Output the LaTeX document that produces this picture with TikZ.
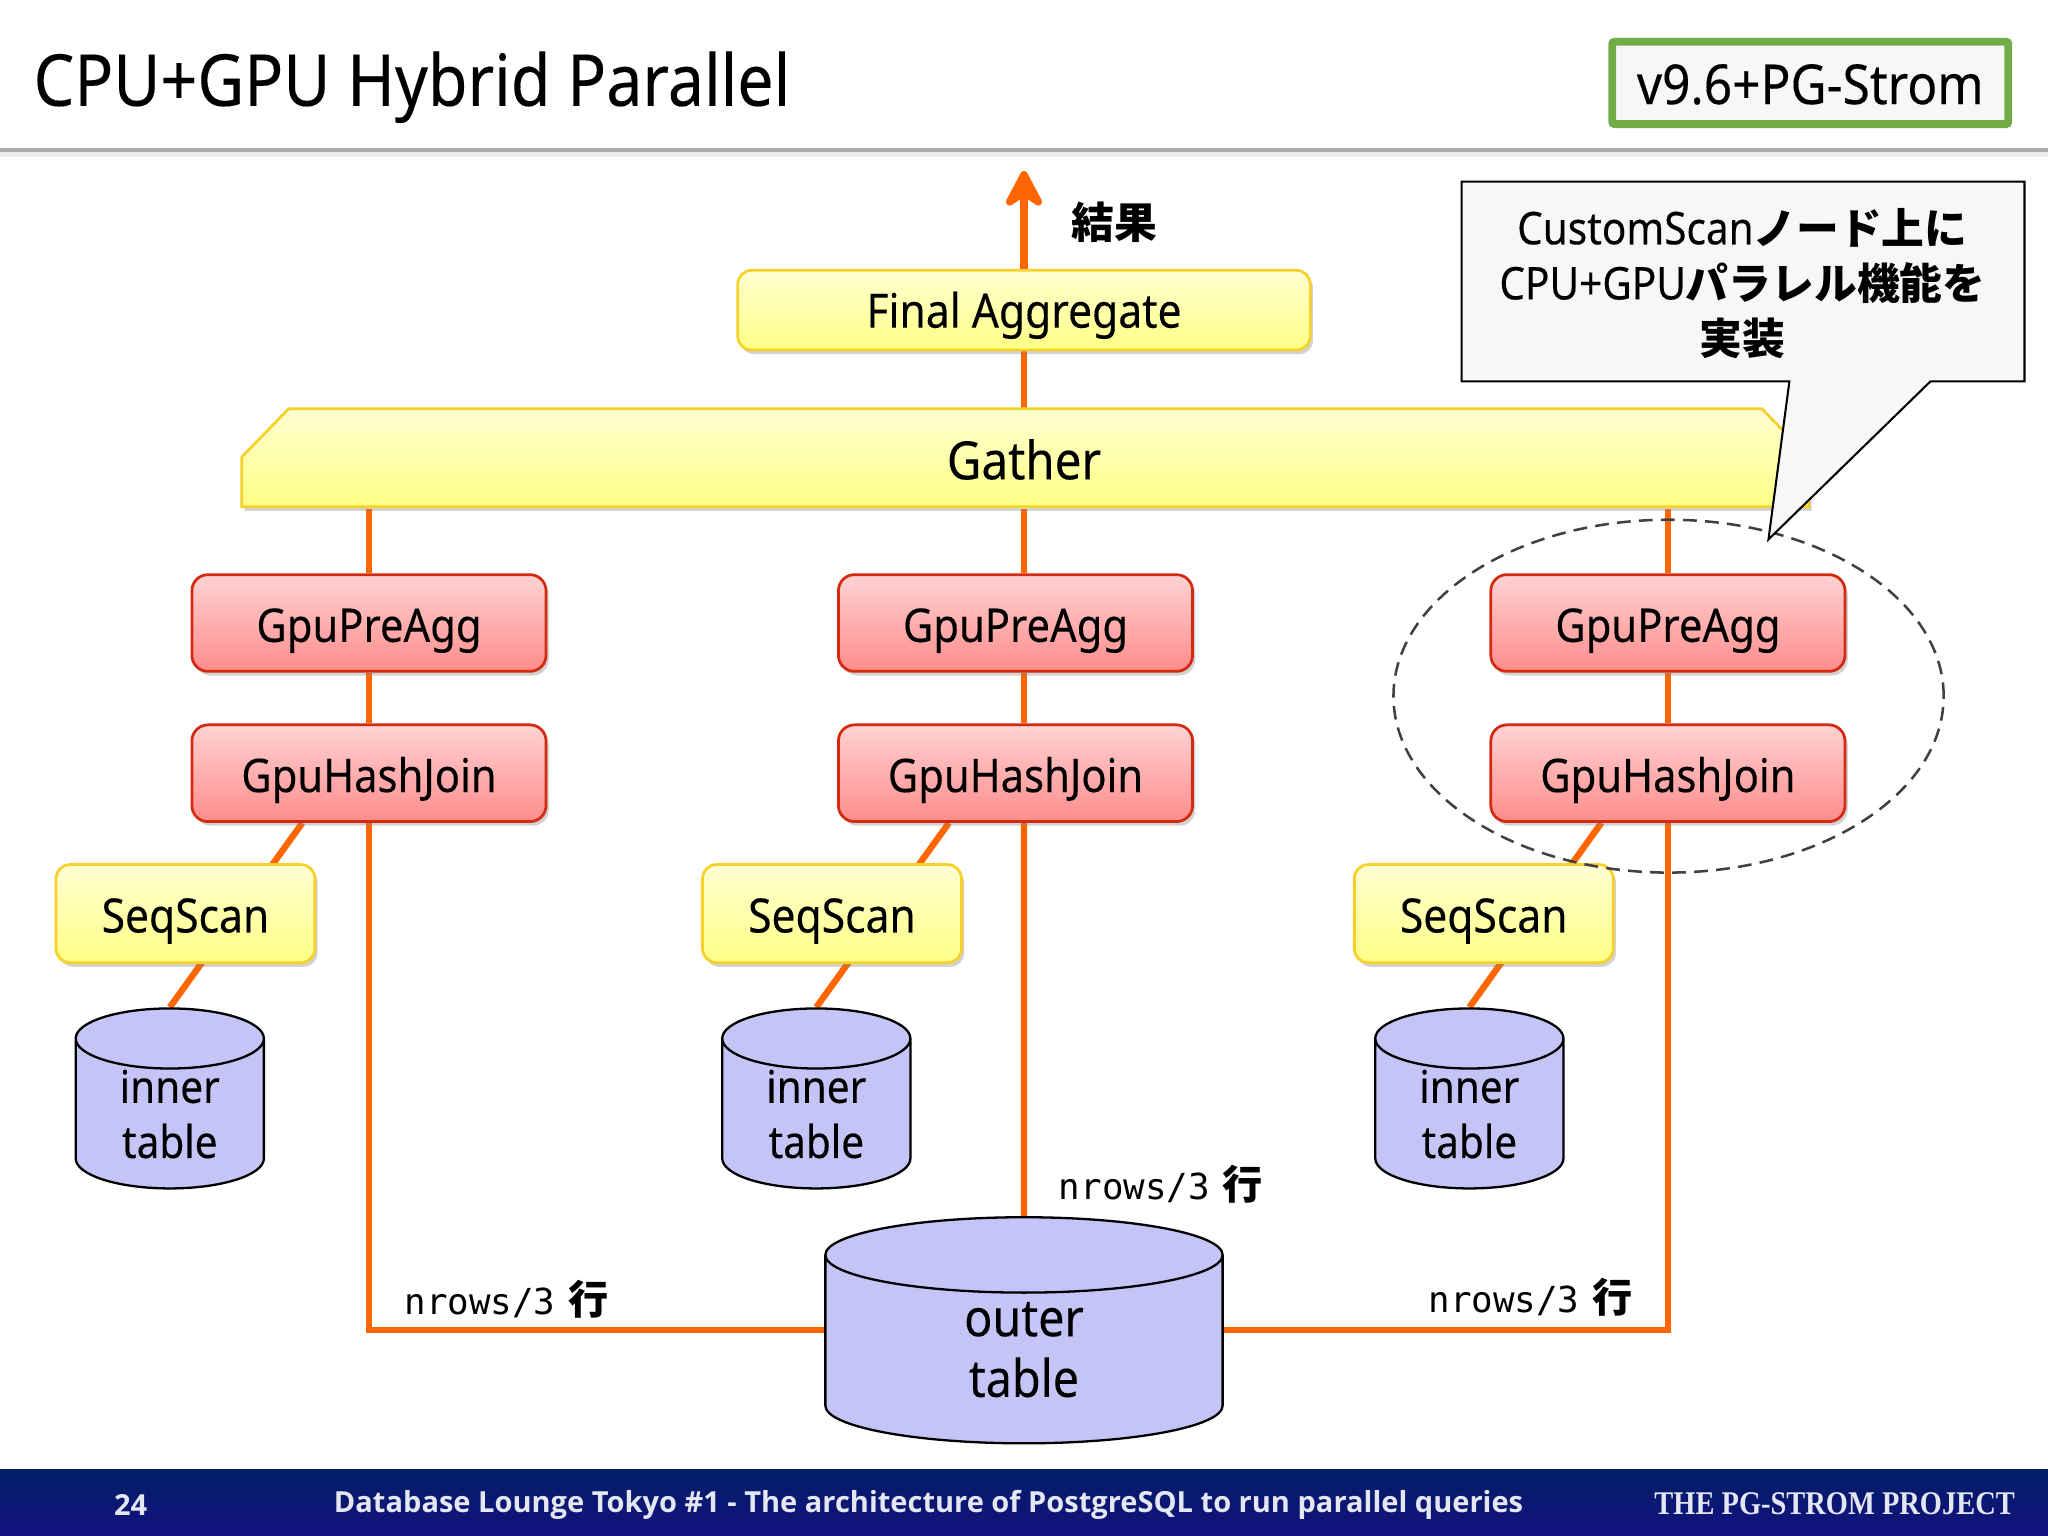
\documentclass[tikz,border=0pt]{standalone}
\usepackage{fontspec}
\setmainfont[FakeStretch=0.9,FakeBold=0.2]{Noto Sans}
\setmonofont{DejaVu Sans Mono}
\newfontfamily\jpfont[Scale=0.95]{Noto Sans CJK JP}
\newfontfamily\footfont{Open Sans}
\newfontfamily\projfont[FakeStretch=0.86]{Liberation Serif}
\usetikzlibrary{arrows.meta,backgrounds,shadows,shapes.geometric}
\definecolor{pipeorange}{HTML}{FF6600}
\definecolor{yellowtop}{HTML}{FFFFD2}
\definecolor{yellowbot}{HTML}{FFFF85}
\definecolor{yellowedge}{HTML}{F7D02A}
\definecolor{redtop}{HTML}{FFD2D2}
\definecolor{redbot}{HTML}{FF8C8C}
\definecolor{rededge}{HTML}{D42A10}
\definecolor{tablefill}{HTML}{C4C4F6}
\definecolor{notefill}{HTML}{F7F7F7}
\definecolor{badgegreen}{HTML}{70AD47}
\definecolor{footertop}{HTML}{001F66}
\definecolor{footerbot}{HTML}{15107F}
\definecolor{footertext}{HTML}{E4E6F2}
\tikzset{
    softshadow/.style={drop shadow={shadow xshift=0.6pt,shadow yshift=-0.9pt,opacity=0.35}},
    yellowbox/.style={rectangle,rounded corners=3pt,draw=yellowedge,line width=0.6pt,top color=yellowtop,bottom color=yellowbot,softshadow,inner sep=0pt,text height=8.2pt,text depth=0pt,font=\fontsize{10.3}{12}\selectfont},
    redbox/.style={rectangle,rounded corners=3.5pt,draw=rededge,line width=0.6pt,top color=redtop,bottom color=redbot,softshadow,minimum width=2.71cm,minimum height=0.74cm,inner sep=0pt,text height=8.2pt,text depth=0pt,font=\fontsize{10.1}{12}\selectfont},
    seqbox/.style={yellowbox,minimum width=1.98cm,minimum height=0.75cm},
    tablecyl/.style={cylinder,shape border rotate=90,anchor=shape center,draw=black,line width=0.5pt,fill=tablefill,align=center,inner sep=0pt,execute at begin node={\rule{0pt}{10pt}}},
    innercyl/.style={tablecyl,minimum height=1.36cm,minimum width=1.44cm,aspect=0.6,font=\fontsize{9.8}{12}\selectfont},
    pipe/.style={draw=pipeorange,line width=1.4pt},
    rowlabel/.style={font=\ttfamily\fontsize{7.8}{9}\selectfont,inner sep=0pt},
    notebox/.style={draw=black,line width=0.45pt,fill=notefill,line join=miter},
}
\newcommand{\rowtext}{nrows/3\hspace{2.8pt}{\jpfont\bfseries\fontsize{9.2}{9}\selectfont 行}}
\begin{document}
\begin{tikzpicture}[x=0.01cm,y=-0.01cm]
    \useasboundingbox (0,0) rectangle (1568,1176);

    % Draw header
    \node[anchor=base west,inner sep=0pt,font=\fontsize{15.6}{18}\selectfont] (title) at (25,81) {CPU+GPU Hybrid Parallel};
    \fill[black!8] (0,115) rectangle (1568,120);
    \draw[black!32,line width=0.8pt] (0,115) -- (1568,115);
    \node[draw=badgegreen,line width=1.7pt,fill=notefill,rounded corners=0.5pt,minimum width=3.03cm,minimum height=0.63cm,inner sep=0pt,text height=9.2pt,text depth=0pt,font=\fontsize{12}{13}\selectfont] (badge) at (1386,63.5) {v9.6+PG-Strom};

    % Draw footer
    \shade[top color=footertop,bottom color=footerbot] (0,1125) rectangle (1568,1176);
    \node[text=footertext,font=\footfont\bfseries\fontsize{6.32}{8}\selectfont,inner sep=0pt] (pageno) at (100,1152) {24};
    \node[text=footertext,font=\footfont\bfseries\fontsize{6.32}{8}\selectfont,inner sep=0pt,anchor=west] (talk) at (255,1152) {Database Lounge Tokyo \#1 - The architecture of PostgreSQL to run parallel queries};
    \node[text=footertext,font=\projfont\bfseries\fontsize{7.2}{8}\selectfont,inner sep=0pt,anchor=west] (project) at (1266,1151) {THE PG-STROM PROJECT};

    % Draw top nodes
    \node[yellowbox,minimum width=4.38cm,minimum height=0.61cm,text height=7.6pt] (final) at (784,237.5) {Final Aggregate};
    \draw[draw=yellowedge,line width=0.6pt,top color=yellowtop,bottom color=yellowbot,softshadow] (185,350) -- (221,313) -- (1349,313) -- (1385,350) -- (1385,388) -- (185,388) -- cycle;
    \node[minimum width=12cm,minimum height=0.75cm,inner sep=0pt,text height=8.8pt,text depth=0pt,font=\fontsize{11.5}{13}\selectfont] (gather) at (784,351.5) {Gather};
    \coordinate (result) at (784,131);
    \node[font=\jpfont\bfseries\fontsize{9.8}{11}\selectfont,inner sep=0pt] (resultlabel) at (853,170) {結果};

    % Draw left column
    \node[redbox] (pre1) at (282.5,477) {GpuPreAgg};
    \node[redbox] (hash1) at (282.5,592) {GpuHashJoin};
    \node[seqbox] (seq1) at (142,699.5) {SeqScan};
    \node[innercyl] (inner1) at (130,841) {inner\\table};

    % Draw middle column
    \node[redbox] (pre2) at (777.5,477) {GpuPreAgg};
    \node[redbox] (hash2) at (777.5,592) {GpuHashJoin};
    \node[seqbox] (seq2) at (637,699.5) {SeqScan};
    \node[innercyl] (inner2) at (625,841) {inner\\table};

    % Draw right column
    \node[redbox] (pre3) at (1277,477) {GpuPreAgg};
    \node[redbox] (hash3) at (1277,592) {GpuHashJoin};
    \node[seqbox] (seq3) at (1136,699.5) {SeqScan};
    \node[innercyl] (inner3) at (1125,841) {inner\\table};

    % Draw outer table
    \node[tablecyl,minimum height=1.73cm,minimum width=3.04cm,aspect=0.63,font=\fontsize{11.3}{13.2}\selectfont,execute at begin node={\rule{0pt}{11.2pt}}] (outer) at (784,1018.5) {outer\\table};

    % Draw row labels
    \node[rowlabel,anchor=west] (rows1) at (309,995) {\rowtext};
    \node[rowlabel,anchor=west] (rows2) at (810,907) {\rowtext};
    \node[rowlabel,anchor=west] (rows3) at (1093,993) {\rowtext};

    % Draw pipes behind the nodes
    \begin{pgfonlayer}{background}
        \fill[white] (0,0) rectangle (1568,1176);
        \draw[pipe,line width=1.8pt,-{Stealth[length=10pt,width=10.5pt,inset=3.5pt,round]}] (final.north) -- (result);
        \draw[pipe] (final.south) -- (final.south |- gather.north);
        \draw[pipe] (pre1.north) -- (pre1.north |- gather.south);
        \draw[pipe] (pre1.south) -- (hash1.north);
        \draw[pipe] (hash1.south) |- (outer.shape center);
        \draw[pipe] (inner1.north) -- ([xshift=-0.51cm]hash1.south);
        \draw[pipe] (gather.south) -- (gather.south |- pre2.north);
        \draw[pipe] (gather.south |- pre2.south) -- (gather.south |- hash2.north);
        \draw[pipe] (gather.south |- hash2.south) -- (outer.north);
        \draw[pipe] (inner2.north) -- ([xshift=-0.51cm]hash2.south);
        \draw[pipe] (pre3.north) -- (pre3.north |- gather.south);
        \draw[pipe] (pre3.south) -- (hash3.north);
        \draw[pipe] (hash3.south) |- (outer.shape center);
        \draw[pipe] (inner3.north) -- ([xshift=-0.51cm]hash3.south);
    \end{pgfonlayer}

    % Draw dashed ellipse
    \node[ellipse,draw=black!75,dash pattern=on 3pt off 1.8pt,line width=0.55pt,minimum width=4.21cm,minimum height=2.7cm] (group) at (1277.5,533) {};

    % Draw callout
    \coordinate (notetip) at (1354,413);
    \draw[notebox] (1119,139) -- (1550,139) -- (1550,292) -- (1478,292) -- (notetip) -- (1370,292) -- (1119,292) -- cycle;
    \node[align=center,inner sep=0pt,font=\fontsize{9.8}{12}\selectfont] (note) at (1334,217) {CustomScan{\jpfont\bfseries ノード上に}\\CPU+GPU{\jpfont\bfseries パラレル機能を}\\{\jpfont\bfseries 実装}};
\end{tikzpicture}
\end{document}
